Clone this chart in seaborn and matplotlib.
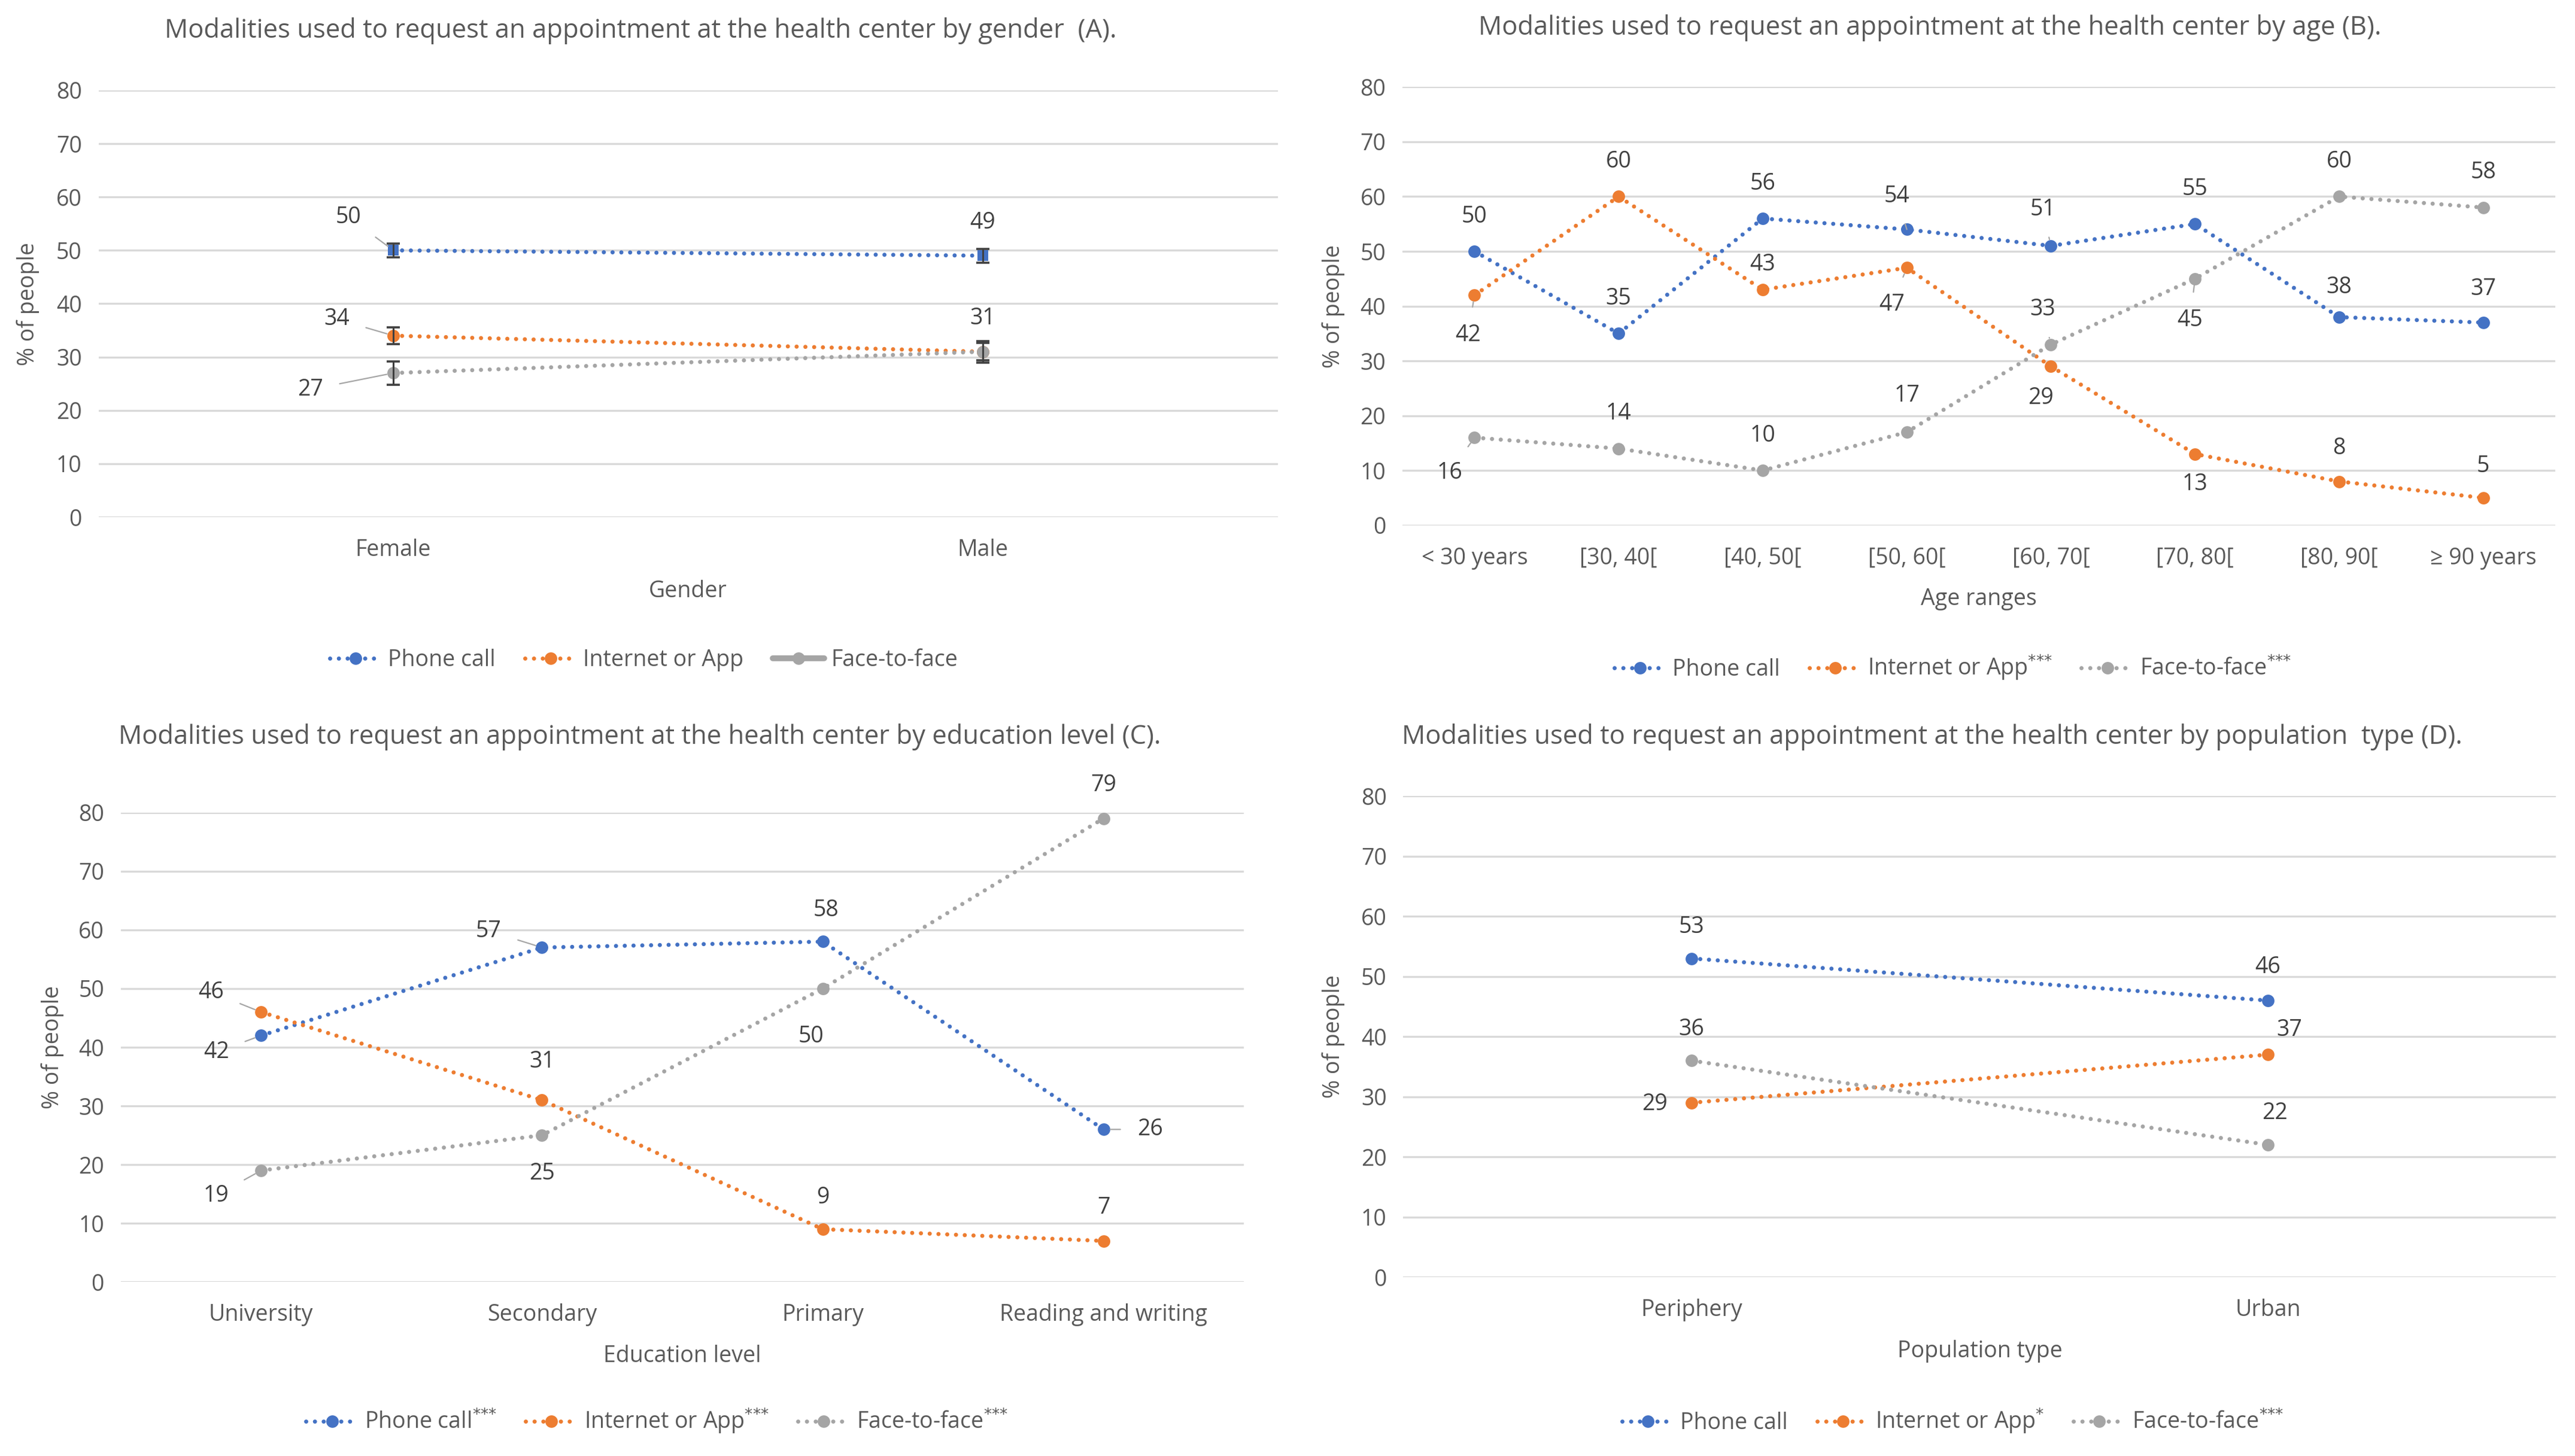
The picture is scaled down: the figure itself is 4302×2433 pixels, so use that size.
import numpy as np
import pandas as pd
import matplotlib
matplotlib.use("Agg")
import matplotlib.pyplot as plt
from matplotlib.lines import Line2D
import seaborn as sns

# ---------------- data ----------------
series_names = ["Phone call", "Internet or App", "Face-to-face"]

gender_cats = ["Female", "Male"]
gender_phone = [50, 49]
gender_internet = [34, 31]
gender_face = [27, 31]
gender_phone_err = [1.3, 1.3]
gender_internet_err = [1.6, 1.6]
gender_face_err = [2.2, 2.0]

age_cats = ["< 30 years", "[30, 40[", "[40, 50[", "[50, 60[", "[60, 70[",
            "[70, 80[", "[80, 90[", "\u2265 90 years"]
age_phone = [50, 35, 56, 54, 51, 55, 38, 37]
age_internet = [42, 60, 43, 47, 29, 13, 8, 5]
age_face = [16, 14, 10, 17, 33, 45, 60, 58]

edu_cats = ["University", "Secondary", "Primary", "Reading and writing"]
edu_phone = [42, 57, 58, 26]
edu_internet = [46, 31, 9, 7]
edu_face = [19, 25, 50, 79]

pop_cats = ["Periphery", "Urban"]
pop_phone = [53, 46]
pop_internet = [29, 37]
pop_face = [36, 22]

titles = [
    "Modalities used to request an appointment at the health center by gender  (A).",
    "Modalities used to request an appointment at the health center by age (B).",
    "Modalities used to request an appointment at the health center by education level (C).",
    "Modalities used to request an appointment at the health center by population  type (D).",
]
xlabels = ["Gender", "Age ranges", "Education level", "Population type"]
ylabel = "% of people"
sig_marks = [[0, 0, 0], [0, 3, 3], [3, 3, 3], [0, 1, 3]]

# ---------------- styling / layout ----------------
sns.set_style("white")
plt.rcParams["font.family"] = ["Open Sans", "DejaVu Sans"]
colors = ["#4472C4", "#ED7D31", "#A5A5A5"]
TXT = "#595959"
LBL = "#404040"
GRID = "#D9D9D9"
DOT = (0, (0.01, 2.1))
LW = 2.5
MS = 7.5
FS = 13.5
TFS = 15.7

fig = plt.figure(figsize=(21.51, 12.165), dpi=200)
W, H = 1568.0, 887.0


def axes_px(l, r, top, bottom):
    return fig.add_axes([l / W, 1 - bottom / H, (r - l) / W, (bottom - top) / H])


# layout of each panel (display-pixel units of the reference)
panels = [
    dict(box=(60, 778, 55, 315), title=(390, 25), legend=(392, 402), ylab=17),
    dict(box=(854, 1556, 53, 320), title=(1175, 23), legend=(1189, 407), ylab=812),
    dict(box=(73.5, 757.5, 495, 781), title=(389.5, 455), legend=(400, 866), ylab=32),
    dict(box=(854.5, 1556.5, 485, 778), title=(1176.5, 455), legend=(1189, 866), ylab=812),
]

# label offsets (points) and leader flags per panel, per series, per category
offsets = [
    [[(-27, 20, 1), (0, 20, 0)],
     [(-34, 10, 1), None],
     [(-50, -10, 1), (0, 20, 0)]],
    [[(0, 21, 0), (0, 21, 0), (0, 21, 0), (-6, 20, 1), (-5, 22, 1), (0, 21, 0), (0, 18, 0), (0, 20, 0)],
     [(-4, -24, 1), (0, 21, 0), (0, 15, 0), (-9, -22, 1), (-6, -19, 0), (0, -18, 0), (0, 20, 0), (0, 19, 0)],
     [(-15, -21, 1), (0, 21, 0), (0, 21, 0), (0, 22, 0), (-5, 21, 1), (-3, -25, 1), (0, 21, 0), (0, 21, 0)]],
    [[(-27, -10, 1), (-32, 10, 1), (2, 19, 0), (28, 0, 1)],
     [(-30, 12, 1), (0, 23, 0), (0, 19, 0), (0, 20, 0)],
     [(-27, -15, 1), (0, -23, 0), (-7, -29, 0), (0, 20, 0)]],
    [[(0, 19, 0), (0, 20, 0)],
     [(-22, -1, 0), (13, 15, 0)],
     [(0, 19, 0), (4, 19, 1)]],
]

datasets = [
    (gender_cats, [gender_phone, gender_internet, gender_face]),
    (age_cats, [age_phone, age_internet, age_face]),
    (edu_cats, [edu_phone, edu_internet, edu_face]),
    (pop_cats, [pop_phone, pop_internet, pop_face]),
]
gender_errs = [gender_phone_err, gender_internet_err, gender_face_err]

for p, (cfg, (cats, vals)) in enumerate(zip(panels, datasets)):
    l, r, t, b = cfg["box"]
    ax = axes_px(l, r, t, b)
    n = len(cats)
    rows = []
    for s, name in enumerate(series_names):
        for i, c in enumerate(cats):
            rows.append(dict(series=name, cat=c, pos=i, value=vals[s][i]))
    df = pd.DataFrame(rows)

    for s, name in enumerate(series_names):
        sub = df[df.series == name]
        mk = "s" if (p == 0 and s == 0) else "o"
        sns.lineplot(data=sub, x="pos", y="value", ax=ax, color=colors[s],
                     marker=mk, markersize=MS if mk == "o" else MS - 1, markeredgewidth=0,
                     linestyle=DOT, dash_capstyle="round", lw=LW, sort=False,
                     errorbar=None, legend=False, zorder=3 + s, clip_on=False)
        if p == 0:
            ax.errorbar(sub["pos"], sub["value"], yerr=gender_errs[s], fmt="none",
                        ecolor="#404040", elinewidth=1.1, capsize=4, capthick=1.3,
                        zorder=6)
        # data labels
        for i in range(n):
            off = offsets[p][s][i]
            if off is None:
                continue
            dx, dy, lead = off
            v = vals[s][i]
            kw = {}
            if lead:
                kw["arrowprops"] = dict(arrowstyle="-", color="#A6A6A6", lw=0.8,
                                        shrinkA=8, shrinkB=4)
            ax.annotate(f"{v}", xy=(i, v), xytext=(dx, dy), textcoords="offset points",
                        ha="center", va="center", fontsize=FS, color=LBL, zorder=10, **kw)

    ax.set_xlim(-0.5, n - 0.5)
    ax.set_ylim(0, 80)
    ax.set_yticks(np.arange(0, 81, 10))
    ax.set_xticks(np.arange(n))
    ax.set_xticklabels(cats)
    ax.yaxis.grid(True, color=GRID, lw=1.2)
    ax.xaxis.grid(False)
    ax.set_axisbelow(True)
    for sp in ax.spines.values():
        sp.set_visible(False)
    ax.tick_params(axis="both", length=0, labelsize=FS, labelcolor=TXT)
    ax.tick_params(axis="y", pad=10)
    ax.tick_params(axis="x", pad=13)
    ax.set_xlabel(xlabels[p], fontsize=FS, color=TXT, labelpad=11)
    ax.set_ylabel(ylabel, fontsize=FS, color=TXT)
    ax.yaxis.label.set_va("center")
    ax.yaxis.set_label_coords((cfg["ylab"] - l) / (r - l), 0.5)

    tx, ty = cfg["title"]
    ax.set_title(titles[p], x=(tx - l) / (r - l), y=(b - ty) / (b - t),
                 va="center", ha="center", fontsize=TFS, color=TXT)

    # legend
    handles = []
    labels = []
    for s, name in enumerate(series_names):
        if p == 0 and s == 2:
            h = Line2D([], [], color=colors[s], lw=3.5, linestyle="-", marker="o",
                       markersize=MS, markeredgewidth=0)
        else:
            h = Line2D([], [], color=colors[s], lw=LW, linestyle=DOT, dash_capstyle="round",
                       marker="o", markersize=MS, markeredgewidth=0)
        handles.append(h)
        k = sig_marks[p][s]
        labels.append(name + (r"$^{" + "{*}" * k + "}$" if k else ""))
    lx, ly = cfg["legend"]
    fig.legend(handles, labels, loc="center", bbox_to_anchor=(lx / W, 1 - ly / H),
               ncol=3, frameon=False, fontsize=FS, labelcolor=TXT, handlelength=2.3,
               handletextpad=0.3, columnspacing=1.3)

fig.savefig("out.png", dpi=200, facecolor="white")
